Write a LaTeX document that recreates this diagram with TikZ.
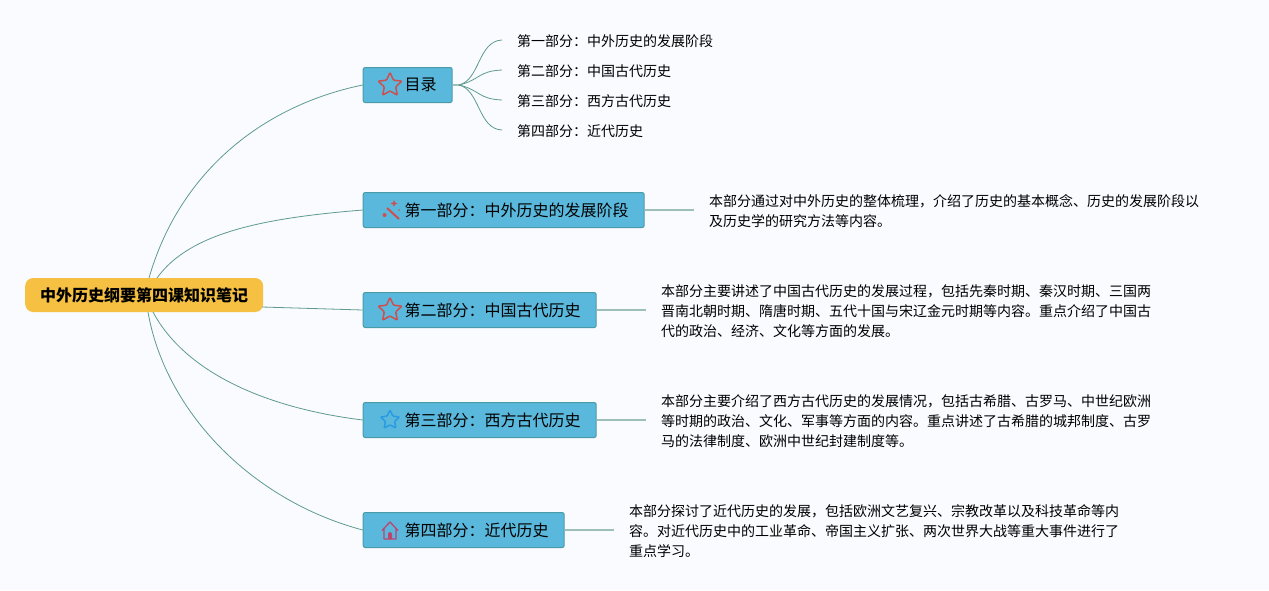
\documentclass[tikz,border=0pt]{standalone}
\usepackage{fontspec}
\setmainfont{Noto Sans CJK SC}
\usetikzlibrary{shapes.geometric}
\definecolor{bgc}{HTML}{F9FBFF}
\definecolor{boxc}{HTML}{5AB8DC}
\definecolor{boxe}{HTML}{4A9BA8}
\definecolor{rootc}{HTML}{F6C142}
\definecolor{linec}{HTML}{5F9A90}
\definecolor{linel}{HTML}{9DBFB8}
\definecolor{starr}{HTML}{CF4F4F}
\definecolor{starb}{HTML}{2A9BE0}
\definecolor{housec}{HTML}{BE4470}
\newcommand{\btxt}[1]{\hspace*{41.3pt}\raisebox{-0.8pt}{#1}}
\tikzset{
  rootbox/.style={draw=none,fill=rootc,rounded corners=8pt,minimum width=238pt,minimum height=34pt,inner sep=0pt,font=\fontsize{16pt}{20pt}\selectfont\bfseries,anchor=west},
  branch/.style={draw=boxe,line width=1pt,fill=boxc,rounded corners=2pt,minimum height=35pt,inner xsep=0pt,inner ysep=0pt,font=\fontsize{16pt}{20pt}\selectfont,anchor=west,align=left},
  leaf/.style={font=\fontsize{14pt}{20pt}\selectfont,anchor=west,inner sep=0pt},
  desc/.style={font=\fontsize{14pt}{20.2pt}\selectfont,anchor=west,align=left,inner ysep=0pt,inner xsep=15pt},
  conn/.style={draw=linec,line width=0.8pt},
  stub/.style={draw=linel,line width=1.6pt},
  staricon/.style={star,star points=5,star point ratio=2.1,draw=#1,line width=1.5pt,fill=none,inner sep=0pt,rounded corners=1pt}
}
\begin{document}
\begin{tikzpicture}[x=1pt,y=-1pt]
\useasboundingbox (0,0) rectangle (1269,590);
\fill[bgc] (0,0) rectangle (1269,590);
% nodes
\node[rootbox] (root) at (25,295) {中外历史纲要第四课知识笔记};
\node[branch,text width=89pt,minimum width=89pt] (b0) at (362.7,85) {\btxt{目录}};
\node[branch,text width=281pt,minimum width=281pt] (b1) at (362.7,210) {\btxt{第一部分：中外历史的发展阶段}};
\node[branch,text width=233pt,minimum width=233pt] (b2) at (362.7,310) {\btxt{第二部分：中国古代历史}};
\node[branch,text width=233pt,minimum width=233pt] (b3) at (362.7,420) {\btxt{第三部分：西方古代历史}};
\node[branch,text width=201pt,minimum width=201pt] (b4) at (362.7,530) {\btxt{第四部分：近代历史}};
\node[leaf] (l1) at (517,41) {第一部分：中外历史的发展阶段};
\node[leaf] (l2) at (517,71) {第二部分：中国古代历史};
\node[leaf] (l3) at (517,101) {第三部分：西方古代历史};
\node[leaf] (l4) at (517,131) {第四部分：近代历史};
\node[desc] (d1) at (694,211) {本部分通过对中外历史的整体梳理，介绍了历史的基本概念、历史的发展阶段以\\及历史学的研究方法等内容。};
\node[desc] (d2) at (646,311) {本部分主要讲述了中国古代历史的发展过程，包括先秦时期、秦汉时期、三国两\\晋南北朝时期、隋唐时期、五代十国与宋辽金元时期等内容。重点介绍了中国古\\代的政治、经济、文化等方面的发展。};
\node[desc] (d3) at (646,421) {本部分主要介绍了西方古代历史的发展情况，包括古希腊、古罗马、中世纪欧洲\\等时期的政治、文化、军事等方面的内容。重点讲述了古希腊的城邦制度、古罗\\马的法律制度、欧洲中世纪封建制度等。};
\node[desc] (d4) at (614,531) {本部分探讨了近代历史的发展，包括欧洲文艺复兴、宗教改革以及科技革命等内\\容。对近代历史中的工业革命、帝国主义扩张、两次世界大战等重大事件进行了\\重点学习。};
% connector anchors
\coordinate (rt) at (149,278);
\coordinate (rt2) at (157,278);
\coordinate (rm) at (262,307);
\coordinate (rb) at (153,312);
\coordinate (rb2) at (148,312);
\coordinate (hub) at (459,85);
% root connectors
\draw[conn] (rt) .. controls (180,170) and (265,105) .. (b0.west);
\draw[conn] (rt2) .. controls (190,232) and (265,218) .. (b1.west);
\draw[conn] (rm) -- (b2.west);
\draw[conn] (rb) .. controls (185,372) and (265,408) .. (b3.west);
\draw[conn] (rb2) .. controls (165,410) and (250,500) .. (b4.west);
% leaf connectors
\draw[stub] (b0.east) -- (hub);
\draw[conn] (hub) .. controls (480,80) and (478,41) .. (502,40);
\draw[conn] (hub) .. controls (480,80) and (478,71) .. (502,70);
\draw[conn] (hub) .. controls (480,90) and (478,99) .. (502,100);
\draw[conn] (hub) .. controls (480,90) and (478,129) .. (502,130);
% description connectors
\draw[stub] (b1.east) -- (b1.east -| d1.west);
\draw[stub] (b2.east) -- (b2.east -| d2.west);
\draw[stub] (b3.east) -- (b3.east -| d3.west);
\draw[stub] (b4.east) -- (b4.east -| d4.west);
% icons
\node[staricon=starr,minimum size=25pt] (i0) at (390,85) {};
\node[staricon=starr,minimum size=25pt] (i2) at (390,310) {};
\node[staricon=starb,minimum size=20pt] (i3) at (390,420) {};
% wand
\draw[starr,line width=2pt] (387,208) -- (399,219);
\fill[starr] (394,200) -- (395,202.5) -- (397.5,203.5) -- (395,204.5) -- (394,207) -- (393,204.5) -- (390.5,203.5) -- (393,202.5) -- cycle;
\fill[starr] (399,210) circle (0.9);
\fill[starr] (384.5,215) circle (2);
% house
\draw[housec,line width=1.3pt,line join=round] (382,530.5) -- (390,522) -- (398,530.5) (384,528.5) -- (384,539) -- (396,539) -- (396,528.5);
\fill[housec] (388,539) -- (388,534) arc (180:360:2) -- (392,539) -- cycle;
\end{tikzpicture}
\end{document}
